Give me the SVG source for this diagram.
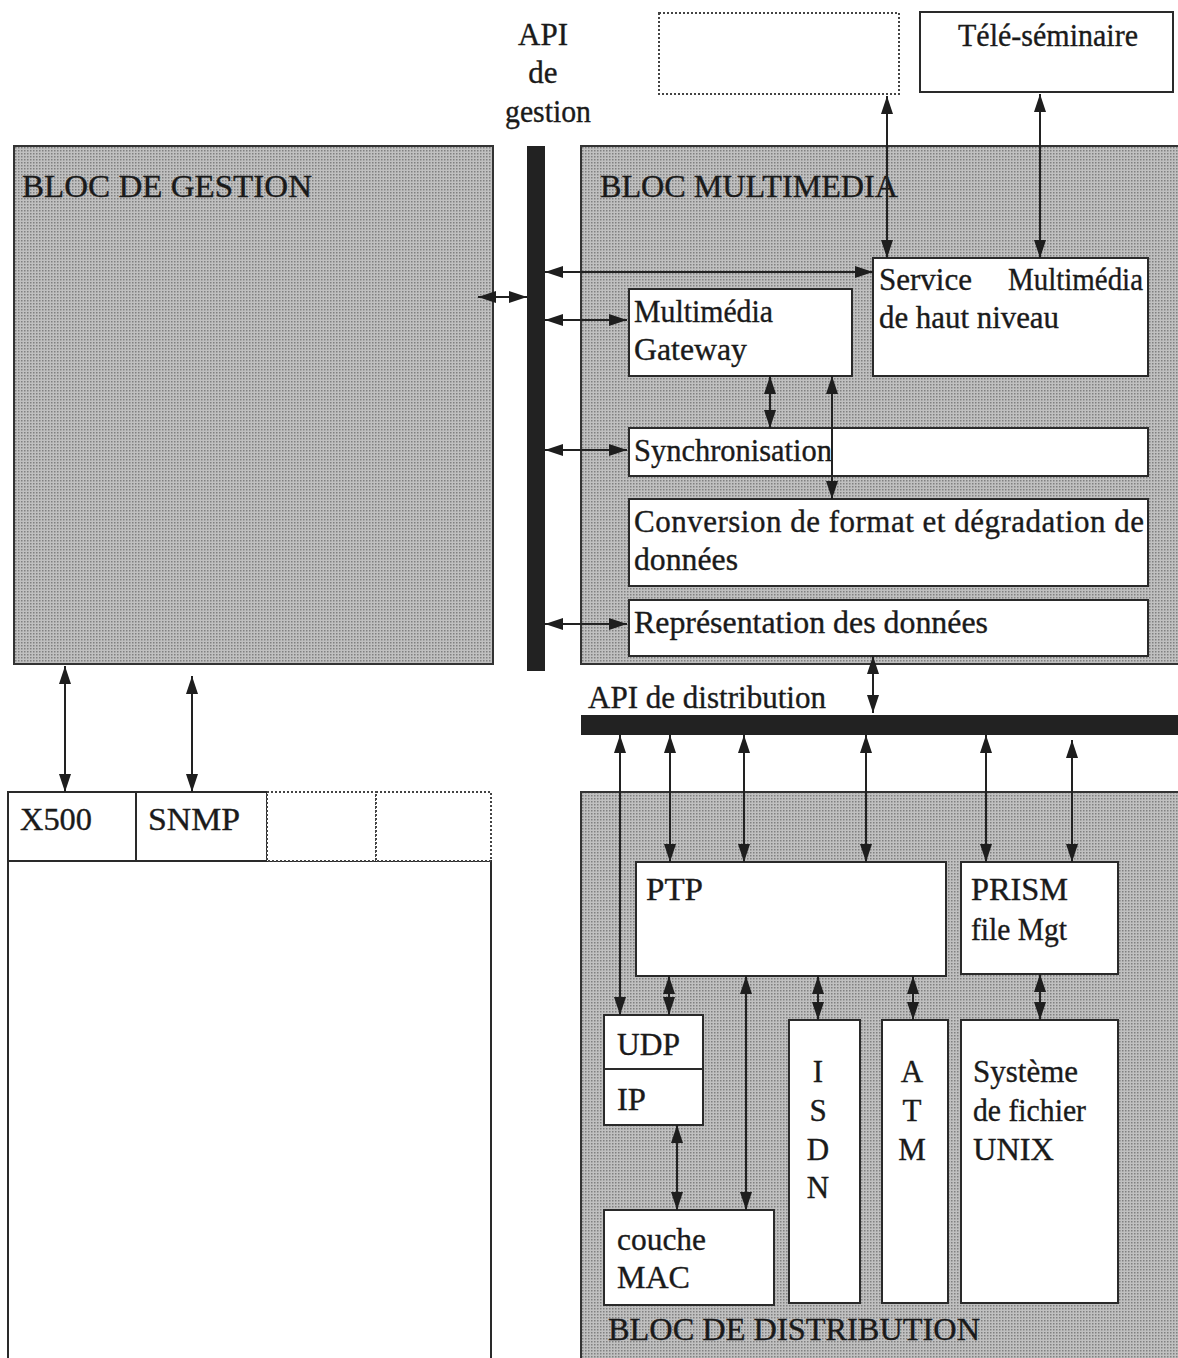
<svg xmlns="http://www.w3.org/2000/svg" width="1178" height="1358" viewBox="0 0 1178 1358">
<defs>
<marker id="ah" viewBox="0 0 18 12" refX="18" refY="6" markerWidth="18" markerHeight="12" markerUnits="userSpaceOnUse" orient="auto-start-reverse">
<path d="M0,0 L18,6 L0,12 z" fill="#1e1e1e"/>
</marker>
<pattern id="dots" width="3" height="3" patternUnits="userSpaceOnUse">
<rect width="3" height="3" fill="#c0c0c0"/>
<rect width="1.5" height="1.5" fill="#808080"/>
</pattern>
</defs>
<style>
text{font-family:"Liberation Serif","Times New Roman",serif;fill:#1a1a1a;stroke:#1a1a1a;stroke-width:0.35;font-size:31px}
.blk{fill:url(#dots);stroke:#333;stroke-width:2}
.box{fill:#fff;stroke:#2a2a2a;stroke-width:2}
.dbox{fill:#fff;stroke:#444;stroke-width:2;stroke-dasharray:2 2}
.bar{fill:#222}
.big{font-size:32px}
.c line{stroke:#222;stroke-width:2;marker-start:url(#ah);marker-end:url(#ah)}
</style>
<rect width="1178" height="1358" fill="#fff"/>

<g id="bloc-gestion">
<rect class="blk" x="14" y="146" width="479" height="518"/>
<text class="big" x="22" y="197" textLength="290" lengthAdjust="spacingAndGlyphs">BLOC DE GESTION</text>
</g>

<g id="api-gestion">
<rect class="bar" x="527" y="146" width="18" height="525"/>
<text x="543" y="45" text-anchor="middle">API</text>
<text x="543" y="83" text-anchor="middle">de</text>
<text x="548" y="122" text-anchor="middle" textLength="86" lengthAdjust="spacingAndGlyphs">gestion</text>
</g>

<g id="dotted-top">
<rect class="dbox" x="659" y="13" width="240" height="81"/>
</g>

<g id="tele-seminaire">
<rect class="box" x="920" y="12" width="253" height="80"/>
<text x="958" y="46" textLength="180" lengthAdjust="spacingAndGlyphs">Télé-séminaire</text>
</g>

<g id="bloc-multimedia">
<rect class="blk" x="581" y="146" width="600" height="518"/>
<text class="big" x="600" y="197" textLength="298" lengthAdjust="spacingAndGlyphs">BLOC MULTIMEDIA</text>
</g>

<g id="service-multimedia">
<rect class="box" x="873" y="258" width="275" height="118"/>
<text x="879" y="290" textLength="93" lengthAdjust="spacingAndGlyphs">Service</text>
<text x="1008" y="290" textLength="135" lengthAdjust="spacingAndGlyphs">Multimédia</text>
<text x="879" y="328" textLength="180" lengthAdjust="spacingAndGlyphs">de haut niveau</text>
</g>

<g id="multimedia-gateway">
<rect class="box" x="629" y="289" width="223" height="87"/>
<text x="634" y="322" textLength="139" lengthAdjust="spacingAndGlyphs">Multimédia</text>
<text x="634" y="360" textLength="113" lengthAdjust="spacingAndGlyphs">Gateway</text>
</g>

<g id="synchronisation">
<rect class="box" x="629" y="428" width="519" height="48"/>
<text x="634" y="461" textLength="198" lengthAdjust="spacingAndGlyphs">Synchronisation</text>
</g>

<g id="conversion">
<rect class="box" x="629" y="499" width="519" height="87"/>
<text x="634" y="532" textLength="510" lengthAdjust="spacing">Conversion de format et dégradation de</text>
<text x="634" y="570" textLength="104" lengthAdjust="spacingAndGlyphs">données</text>
</g>

<g id="representation">
<rect class="box" x="629" y="600" width="519" height="56"/>
<text x="634" y="633" textLength="354" lengthAdjust="spacingAndGlyphs">Représentation des données</text>
</g>

<g id="api-distribution">
<rect class="bar" x="581" y="715" width="597" height="20"/>
<text x="588" y="708" textLength="238" lengthAdjust="spacingAndGlyphs">API de distribution</text>
</g>

<g id="bloc-distribution">
<rect class="blk" x="581" y="792" width="600" height="570"/>
<text class="big" x="608" y="1340" textLength="372" lengthAdjust="spacingAndGlyphs">BLOC DE DISTRIBUTION</text>
</g>

<g id="ptp">
<rect class="box" x="636" y="862" width="310" height="114"/>
<text x="646" y="900" textLength="57" lengthAdjust="spacingAndGlyphs">PTP</text>
</g>

<g id="prism">
<rect class="box" x="961" y="862" width="157" height="112"/>
<text x="971" y="900" textLength="97" lengthAdjust="spacingAndGlyphs">PRISM</text>
<text x="971" y="940" textLength="96" lengthAdjust="spacingAndGlyphs">file Mgt</text>
</g>

<g id="udp-ip">
<rect class="box" x="604" y="1015" width="99" height="110"/>
<line x1="604" y1="1069" x2="703" y2="1069" stroke="#2a2a2a" stroke-width="2"/>
<text x="617" y="1055" textLength="63" lengthAdjust="spacingAndGlyphs">UDP</text>
<text x="617" y="1110" textLength="29" lengthAdjust="spacingAndGlyphs">IP</text>
</g>

<g id="couche-mac">
<rect class="box" x="604" y="1210" width="170" height="95"/>
<text x="617" y="1250" textLength="89" lengthAdjust="spacingAndGlyphs">couche</text>
<text x="617" y="1288" textLength="73" lengthAdjust="spacingAndGlyphs">MAC</text>
</g>

<g id="isdn">
<rect class="box" x="789" y="1020" width="71" height="283"/>
<text x="818" y="1082" text-anchor="middle">I</text>
<text x="818" y="1121" text-anchor="middle">S</text>
<text x="818" y="1160" text-anchor="middle">D</text>
<text x="818" y="1198" text-anchor="middle">N</text>
</g>

<g id="atm">
<rect class="box" x="882" y="1020" width="66" height="283"/>
<text x="912" y="1082" text-anchor="middle">A</text>
<text x="912" y="1121" text-anchor="middle">T</text>
<text x="912" y="1160" text-anchor="middle">M</text>
</g>

<g id="systeme-fichier">
<rect class="box" x="961" y="1020" width="157" height="283"/>
<text x="973" y="1082" textLength="105" lengthAdjust="spacingAndGlyphs">Système</text>
<text x="973" y="1121" textLength="113" lengthAdjust="spacingAndGlyphs">de fichier</text>
<text x="973" y="1160" textLength="81" lengthAdjust="spacingAndGlyphs">UNIX</text>
</g>

<g id="gestion-protocols">
<rect class="box" x="8" y="861" width="483" height="500"/>
<rect class="box" x="8" y="792" width="128" height="69"/>
<rect class="box" x="136" y="792" width="131" height="69"/>
<rect class="dbox" x="267" y="792" width="109" height="69"/>
<rect class="dbox" x="376" y="792" width="115" height="69"/>
<text x="20" y="830" textLength="72" lengthAdjust="spacingAndGlyphs">X500</text>
<text x="148" y="830" textLength="92" lengthAdjust="spacingAndGlyphs">SNMP</text>
</g>

<g id="connectors" class="c">
<line x1="887" y1="96" x2="887" y2="258"/>
<line x1="1040" y1="94" x2="1040" y2="258"/>
<line x1="545" y1="272" x2="873" y2="272"/>
<line x1="478" y1="297" x2="527" y2="297"/>
<line x1="545" y1="320" x2="627" y2="320"/>
<line x1="770" y1="376" x2="770" y2="428"/>
<line x1="832" y1="376" x2="832" y2="499"/>
<line x1="545" y1="450" x2="627" y2="450"/>
<line x1="545" y1="624" x2="627" y2="624"/>
<line x1="873" y1="656" x2="873" y2="713"/>
<line x1="620" y1="735" x2="620" y2="1015"/>
<line x1="670" y1="735" x2="670" y2="862"/>
<line x1="744" y1="735" x2="744" y2="862"/>
<line x1="866" y1="735" x2="866" y2="862"/>
<line x1="986" y1="735" x2="986" y2="862"/>
<line x1="1072" y1="740" x2="1072" y2="862"/>
<line x1="669" y1="976" x2="669" y2="1015"/>
<line x1="746" y1="976" x2="746" y2="1210"/>
<line x1="818" y1="976" x2="818" y2="1020"/>
<line x1="913" y1="976" x2="913" y2="1020"/>
<line x1="1040" y1="974" x2="1040" y2="1020"/>
<line x1="677" y1="1125" x2="677" y2="1210"/>
<line x1="65" y1="666" x2="65" y2="792"/>
<line x1="192" y1="676" x2="192" y2="792"/>
</g>
</svg>
